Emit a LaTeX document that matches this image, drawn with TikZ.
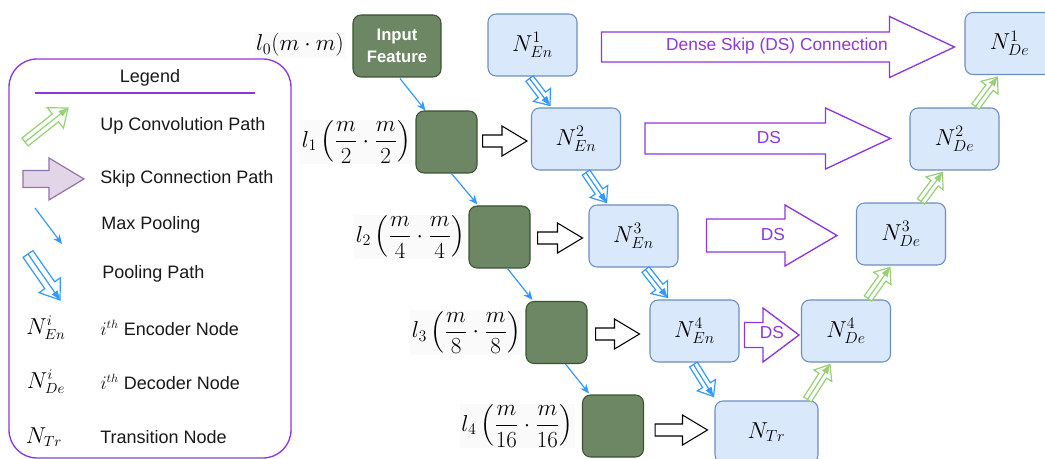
\documentclass[tikz,border=0pt]{standalone}
\usepackage{amsmath}
\usepackage{fontspec}
\setmainfont{Liberation Sans}
\usetikzlibrary{calc,arrows.meta}
\definecolor{encfill}{HTML}{DAE8FC}
\definecolor{encdraw}{HTML}{6C8EBF}
\definecolor{gfill}{HTML}{6D8764}
\definecolor{gdraw}{HTML}{3A5431}
\definecolor{dspurple}{RGB}{140,56,220}
\definecolor{poolblue}{HTML}{3399FF}
\definecolor{upgreen}{HTML}{97D077}
\definecolor{skfill}{HTML}{E1D5E7}
\definecolor{skdraw}{HTML}{9673A6}
\newcommand{\flexarrow}[6]{%
  \coordinate (fa-c) at ($(#3)!#6!(#2)$);
  \draw[#1] ($(#2)!#4!90:(#3)$) -- ($(fa-c)!#4!90:(#3)$) -- ($(fa-c)!#5!90:(#3)$)
    -- (#3) -- ($(fa-c)!#5!-90:(#3)$) -- ($(fa-c)!#4!-90:(#3)$) -- ($(#2)!#4!-90:(#3)$) -- cycle;
}
\tikzset{
  enc/.style={draw=encdraw, fill=encfill, rounded corners=6pt, minimum width=66.75pt, minimum height=46.5pt, inner sep=0pt, line width=0.8pt, font=\fontsize{16.5}{18}\selectfont},
  gbox/.style={draw=gdraw, fill=gfill, rounded corners=6pt, minimum width=45.75pt, minimum height=46.5pt, inner sep=0pt, line width=0.8pt},
  lvl/.style={anchor=east, inner sep=1pt, fill=black!2, font=\fontsize{17}{19}\selectfont},
  maxpool/.style={draw=poolblue, line width=0.9pt, -{Stealth[length=7pt,width=6pt]}},
  poolout/.style={draw=poolblue, fill=white, line width=0.9pt, line join=miter},
  pooline/.style={draw=poolblue, line width=0.9pt, -{Triangle[length=7pt,width=5pt]}},
  upout/.style={draw=upgreen, fill=white, line width=0.9pt, line join=miter},
  upline/.style={draw=upgreen, line width=0.9pt, -{Triangle[length=7pt,width=5pt]}},
  skipout/.style={draw=black, fill=white, line width=0.8pt, line join=miter},
  dsout/.style={draw=dspurple, fill=white, line width=1pt, line join=miter},
  dstext/.style={text=dspurple, font=\fontsize{13}{15}\selectfont, inner sep=0pt},
  legtext/.style={anchor=west, text=black!90, font=\fontsize{13.5}{16}\selectfont, inner sep=0pt},
  legmath/.style={font=\fontsize{16}{18}\selectfont, inner sep=0pt},
}
\begin{document}
\begin{tikzpicture}[x=0.75pt,y=-0.75pt]
\useasboundingbox (0,0) rectangle (1045,459);
\clip (0,0) rectangle (1045,459);
\fill[white] (0,0) rectangle (1045,459);

% ---------------- encoder / decoder nodes
\node[enc] (ne1) at (532.5,45) {$N^1_{En}$};
\node[enc] (ne2) at (576,139) {$N^2_{En}$};
\node[enc] (ne3) at (633.5,236) {$N^3_{En}$};
\node[enc] (ne4) at (694.5,331) {$N^4_{En}$};
\node[enc, minimum width=77.25pt] (ntr) at (766.5,432) {$N_{Tr}$};
\node[enc] (nd4) at (846,331) {$N^4_{De}$};
\node[enc] (nd3) at (901,234) {$N^3_{De}$};
\node[enc] (nd2) at (954.5,139) {$N^2_{De}$};
\node[enc] (nd1) at (1009.5,43.5) {$N^1_{De}$};

% ---------------- green feature boxes
\node[gbox, minimum width=66pt, text=white, font=\bfseries\fontsize{12.5}{17}\selectfont, align=center] (inp) at (397,46) {Input\\Feature};
\node[gbox] (g1) at (446.5,142) {};
\node[gbox] (g2) at (499.5,237) {};
\node[gbox] (g3) at (556.5,332.5) {};
\node[gbox] (g4) at (613,426) {};

% ---------------- level labels
\node[lvl] (l0) at ($(inp.west)+(-7,-1)$) {$l_0(m\cdot m)$};
\node[lvl] (l1) at ($(g1.west)+(-3,0)$) {$l_1\left(\dfrac{m}{2}\cdot\dfrac{m}{2}\right)$};
\node[lvl] (l2) at ($(g2.west)+(-2,0)$) {$l_2\left(\dfrac{m}{4}\cdot\dfrac{m}{4}\right)$};
\node[lvl] (l3) at ($(g3.west)+(-3,0)$) {$l_3\left(\dfrac{m}{8}\cdot\dfrac{m}{8}\right)$};
\node[lvl] (l4) at ($(g4.west)+(-7,0)$) {$l_4\left(\dfrac{m}{16}\cdot\dfrac{m}{16}\right)$};

% ---------------- max pooling arrows
\draw[maxpool] ($(inp.south)+(3,1)$) -- ($(g1.north west)+(10,0)$);
\draw[maxpool] ($(g1.south)+(5,0)$) -- ($(g2.north west)+(9,-1)$);
\draw[maxpool] ($(g2.south)+(8,0)$) -- ($(g3.north west)+(7,-1)$);
\draw[maxpool] ($(g3.south)+(9,0)$) -- ($(g4.north west)+(7,-1)$);

% ---------------- skip (black hollow) arrows
\coordinate (s1a) at ($(g1.east)+(5,-1)$);  \coordinate (s1b) at ($(ne2.west)+(-4,2)$);
\coordinate (s2a) at ($(g2.east)+(7,1)$);   \coordinate (s2b) at ($(ne3.west)+(-6,2)$);
\coordinate (s3a) at ($(g3.east)+(8,1.5)$); \coordinate (s3b) at ($(ne4.west)+(-10,3)$);
\coordinate (s4a) at ($(g4.east)+(11,4)$);  \coordinate (s4b) at ($(ntr.west)+(-7,-2)$);
\flexarrow{skipout}{s1a}{s1b}{4.5pt}{11.25pt}{18.75pt}
\flexarrow{skipout}{s2a}{s2b}{4.5pt}{11.25pt}{18.75pt}
\flexarrow{skipout}{s3a}{s3b}{4.5pt}{11.25pt}{18.75pt}
\flexarrow{skipout}{s4a}{s4b}{4.5pt}{11.25pt}{18.75pt}

% ---------------- pooling path arrows (encoder)
\coordinate (p1a) at ($(ne1.south)+(-3,2)$);  \coordinate (p1b) at ($(ne2.north)+(-26,-2)$);
\coordinate (p2a) at ($(ne2.south)+(10,2)$);  \coordinate (p2b) at ($(ne3.north)+(-27,-2)$);
\coordinate (p3a) at ($(ne3.south)+(12,2)$);  \coordinate (p3b) at ($(ne4.north)+(-27,-2)$);
\coordinate (p4a) at ($(ne4.south)+(-1,2)$);  \coordinate (p4b) at ($(ntr.north)+(-53,-4)$);
\foreach \a/\b in {p1a/p1b,p2a/p2b,p3a/p3b,p4a/p4b}{
  \flexarrow{poolout}{\a}{\b}{3.4pt}{8pt}{10pt}
  \draw[pooline] (\a) -- (\b);
}

% ---------------- up convolution arrows (decoder)
\coordinate (u1a) at ($(ntr.north)+(41,-1)$);   \coordinate (u1b) at ($(nd4.south)+(-16,2)$);
\coordinate (u2a) at ($(nd4.north)+(22,-1)$);   \coordinate (u2b) at ($(nd3.south)+(-11,2)$);
\coordinate (u3a) at ($(nd3.north)+(20,-1)$);   \coordinate (u3b) at ($(nd2.south)+(-12,2)$);
\coordinate (u4a) at ($(nd2.north)+(21,-1)$);   \coordinate (u4b) at ($(nd1.south)+(-12,2)$);
\foreach \a/\b in {u1a/u1b,u2a/u2b,u3a/u3b,u4a/u4b}{
  \flexarrow{upout}{\a}{\b}{3.4pt}{8pt}{10pt}
  \draw[upline] (\a) -- (\b);
}

% ---------------- dense skip arrows
\coordinate (d1a) at ($(ne1.east)+(24,2)$);   \coordinate (d1b) at ($(nd1.west)+(-10,3.5)$);
\coordinate (d2a) at ($(ne2.east)+(24,-0.5)$);\coordinate (d2b) at ($(nd2.west)+(-19,-0.5)$);
\coordinate (d3a) at ($(ne3.east)+(28,-0.5)$);\coordinate (d3b) at ($(nd3.west)+(-19,1.5)$);
\coordinate (d4a) at ($(ne4.east)+(5,4)$);    \coordinate (d4b) at ($(nd4.west)+(-2,4)$);
\flexarrow{dsout}{d1a}{d1b}{11.25pt}{22.9pt}{48.75pt}
\flexarrow{dsout}{d2a}{d2b}{11.6pt}{22.9pt}{48.75pt}
\flexarrow{dsout}{d3a}{d3b}{12.4pt}{22.9pt}{39pt}
\flexarrow{dsout}{d4a}{d4b}{9.4pt}{20.25pt}{27pt}
\node[dstext] (t1) at (777,46) {Dense Skip (DS) Connection};
\node[dstext] (t2) at (769,138) {DS};
\node[dstext] (t3) at (773,235) {DS};
\node[dstext] (t4) at (772,333) {DS};

% ---------------- legend
\draw[dspurple, line width=1pt, rounded corners=21pt] (9,59) rectangle (291,458);
\node[text=black!90, font=\fontsize{13.5}{16}\selectfont, inner sep=0pt] (lgd) at (150,78) {Legend};
\draw[dspurple, line width=1pt] (35,93) -- (255,93);

\coordinate (lu-a) at (25,142); \coordinate (lu-b) at (68,108);
\flexarrow{upout}{lu-a}{lu-b}{3.75pt}{9.75pt}{12pt}
\draw[upline] (lu-a) -- (lu-b);
\node[legtext] (lt1) at (100,126) {Up Convolution Path};

\coordinate (ls-a) at (23,179); \coordinate (ls-b) at (84,179);
\flexarrow{draw=skdraw, fill=skfill, line width=0.9pt, line join=miter}{ls-a}{ls-b}{6.4pt}{15.75pt}{26.25pt}
\node[legtext] (lt2) at (100,179) {Skip Connection Path};

\coordinate (lm-a) at (35,208); \coordinate (lm-b) at (62,244);
\draw[maxpool] (lm-a) -- (lm-b);
\node[legtext] (lt3) at (101,225) {Max Pooling};

\coordinate (lp-a) at (28,254); \coordinate (lp-b) at (60,300);
\flexarrow{poolout}{lp-a}{lp-b}{4.5pt}{9.75pt}{13.5pt}
\draw[pooline] (lp-a) -- (lp-b);
\node[legtext] (lt4) at (102,274) {Pooling Path};

\node[legmath] (lmen) at (46,328) {$N^i_{En}$};
\node[legtext] (lt5) at (100,328) {$i^{th}$ Encoder Node};
\node[legmath] (lmde) at (46,382) {$N^i_{De}$};
\node[legtext] (lt6) at (100,382) {$i^{th}$ Decoder Node};
\node[legmath] (lmtr) at (44,437) {$N_{Tr}$};
\node[legtext] (lt7) at (100,437) {Transition Node};
\end{tikzpicture}
\end{document}
